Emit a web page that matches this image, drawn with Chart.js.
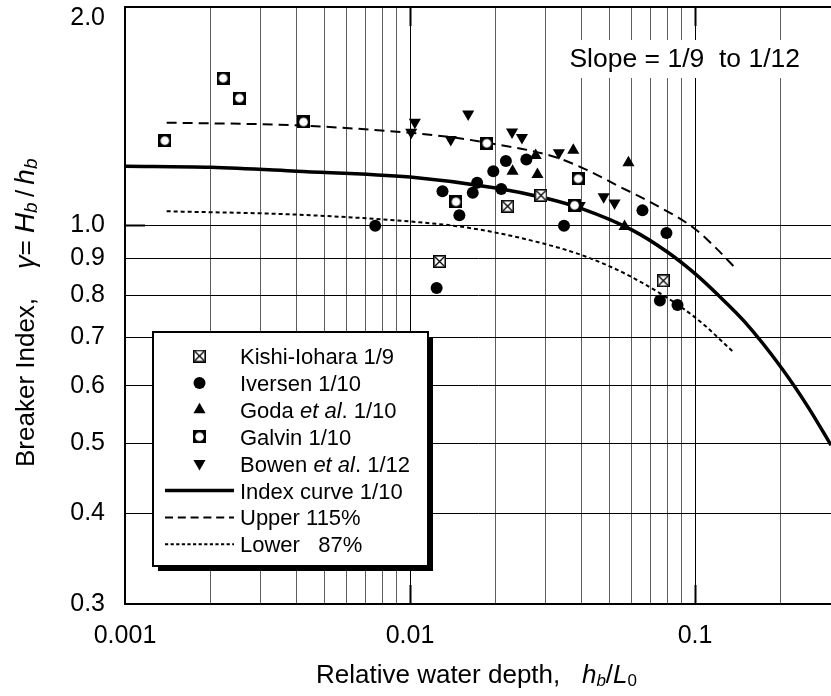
<!DOCTYPE html>
<html>
<head>
<meta charset="utf-8">
<script src="https://cdn.jsdelivr.net/npm/chart.js@4.4.1/dist/chart.umd.min.js"></script>
<style>
  html, body { margin: 0; background: #fff; }
  #wrap { position: relative; width: 831px; height: 696px; }
</style>
</head>
<body>
<div id="wrap"><canvas id="chart" width="831" height="696"></canvas></div>
<script>
// Breaker index vs relative water depth (log-log)
const FONT = '"Liberation Sans", Arial, Helvetica, sans-serif';

const xTicks = [0.001, 0.002, 0.003, 0.004, 0.005, 0.006, 0.007, 0.008, 0.009,
  0.01, 0.02, 0.03, 0.04, 0.05, 0.06, 0.07, 0.08, 0.09, 0.1, 0.2];
const xLabelTicks = [0.001, 0.01, 0.1];
const xMajor = [0.01, 0.1];
const yTicks = [0.3, 0.4, 0.5, 0.6, 0.7, 0.8, 0.9, 1.0, 2.0];
const yMajor = [1.0];

const kishiX = [0.0127, 0.022, 0.0288, 0.0774];
const kishiY = [0.891, 1.062, 1.099, 0.838];

const iversenX = [0.00755, 0.0124, 0.013, 0.0149, 0.0166, 0.0172, 0.0196, 0.0209, 0.0217, 0.0256, 0.0347, 0.0654, 0.0753, 0.0794, 0.0868];
const iversenY = [0.998, 0.819, 1.114, 1.032, 1.108, 1.144, 1.187, 1.122, 1.226, 1.232, 0.998, 1.048, 0.787, 0.975, 0.776];

const godaX = [0.0229, 0.0276, 0.028, 0.0374, 0.0566, 0.0584];
const godaY = [1.187, 1.248, 1.175, 1.269, 0.996, 1.219];

const galvinX = [0.00138, 0.00221, 0.00252, 0.00423, 0.0145, 0.0186, 0.0378, 0.0389];
const galvinY = [1.308, 1.595, 1.497, 1.388, 1.077, 1.297, 1.065, 1.159];

const bowenX = [0.0101, 0.0104, 0.0139, 0.016, 0.0228, 0.0247, 0.0333, 0.0394, 0.0478, 0.0522];
const bowenY = [1.343, 1.387, 1.313, 1.423, 1.344, 1.321, 1.259, 1.064, 1.094, 1.073];

const indexX = [0.001, 0.002, 0.004, 0.01, 0.02, 0.03, 0.04, 0.06, 0.08, 0.1, 0.12, 0.15, 0.2, 0.25, 0.3];
const indexY = [1.206, 1.202, 1.187, 1.165, 1.125, 1.089, 1.054, 0.985, 0.918, 0.857, 0.802, 0.734, 0.637, 0.56, 0.497];

const upperX = [0.0014, 0.004, 0.01, 0.0142, 0.0185, 0.0316, 0.0413, 0.0539, 0.07, 0.1, 0.12, 0.1375];
const upperY = [1.385, 1.373, 1.341, 1.321, 1.300, 1.245, 1.194, 1.132, 1.075, 0.988, 0.925, 0.875];

const lowerX = [0.0014, 0.004, 0.0108, 0.0162, 0.0276, 0.0413, 0.0616, 0.1, 0.1375];
const lowerY = [1.045, 1.034, 1.009, 0.991, 0.949, 0.905, 0.843, 0.746, 0.666];

const slopeText = 'Slope = 1/9  to 1/12';

const pts = (xs, ys) => xs.map((x, i) => ({ x, y: ys[i] }));

// marker images
function kishiMark() {
  const c = document.createElement('canvas');
  c.width = 13; c.height = 13;
  const g = c.getContext('2d');
  g.fillStyle = '#fff'; g.fillRect(0, 0, 13, 13);
  g.strokeStyle = '#000'; g.lineWidth = 1.6;
  g.strokeRect(0.8, 0.8, 11.4, 11.4);
  g.lineWidth = 1.3;
  g.beginPath();
  g.moveTo(2, 2); g.lineTo(11, 11);
  g.moveTo(11, 2); g.lineTo(2, 11);
  g.stroke();
  return c;
}
function galvinMark() {
  const c = document.createElement('canvas');
  c.width = 13; c.height = 13;
  const g = c.getContext('2d');
  g.fillStyle = '#000'; g.fillRect(0, 0, 13, 13);
  g.fillStyle = '#fff';
  g.beginPath(); g.arc(6.5, 6.5, 4.3, 0, Math.PI * 2); g.fill();
  return c;
}

const datasets = [
  { label: 'Kishi-Iohara 1/9', data: pts(kishiX, kishiY), pointStyle: kishiMark(), pointRadius: 6 },
  { label: 'Iversen 1/10', data: pts(iversenX, iversenY), pointStyle: 'circle', pointRadius: 6,
    backgroundColor: '#000', borderWidth: 0 },
  { label: 'Goda *et al*. 1/10', data: pts(godaX, godaY), pointStyle: 'triangle', pointRadius: 7,
    backgroundColor: '#000', borderWidth: 0 },
  { label: 'Galvin 1/10', data: pts(galvinX, galvinY), pointStyle: galvinMark(), pointRadius: 6 },
  { label: 'Bowen *et al*. 1/12', data: pts(bowenX, bowenY), pointStyle: 'triangle', pointRotation: 180,
    pointRadius: 7, backgroundColor: '#000', borderWidth: 0 },
  { label: 'Index curve 1/10', data: pts(indexX, indexY), showLine: true, pointRadius: 0,
    borderColor: '#000', borderWidth: 3.5, cubicInterpolationMode: 'monotone' },
  { label: 'Upper 115%', data: pts(upperX, upperY), showLine: true, pointRadius: 0,
    borderColor: '#000', borderWidth: 2, borderDash: [10, 6], cubicInterpolationMode: 'monotone' },
  { label: 'Lower   87%', data: pts(lowerX, lowerY), showLine: true, pointRadius: 0,
    borderColor: '#000', borderWidth: 2, borderDash: [4, 3], cubicInterpolationMode: 'monotone' },
];

function drawRuns(ctx, runs, x, y) {
  for (const r of runs) {
    ctx.font = (r.i ? 'italic ' : '') + r.s + 'px ' + FONT;
    ctx.fillText(r.t, x, y + (r.dy || 0));
    x += ctx.measureText(r.t).width;
  }
  return x;
}
function starRuns(label, size) {
  return label.split('*').map((t, k) => ({ t, s: size, i: k % 2 === 1 })).filter(r => r.t);
}

const decor = {
  id: 'decor',
  beforeDatasetsDraw(chart) {
    const { ctx, chartArea: a, scales: { x, y } } = chart;
    ctx.save();
    ctx.strokeStyle = '#000';
    ctx.lineWidth = 2;
    ctx.beginPath(); ctx.moveTo(a.left - 1, a.top); ctx.lineTo(a.right, a.top); ctx.stroke();
    xMajor.forEach(v => {
      const px = Math.round(x.getPixelForValue(v)) + 0.5;
      ctx.beginPath();
      ctx.moveTo(px, a.bottom); ctx.lineTo(px, a.bottom - 19);
      ctx.moveTo(px, a.top); ctx.lineTo(px, a.top + 19);
      ctx.stroke();
    });
    yMajor.forEach(v => {
      const py = Math.round(y.getPixelForValue(v)) + 0.5;
      ctx.beginPath(); ctx.moveTo(a.left, py); ctx.lineTo(a.left + 20, py); ctx.stroke();
    });
    // top tick label sits a little below the frame
    ctx.fillStyle = '#000';
    ctx.font = '25px ' + FONT;
    ctx.textAlign = 'right';
    ctx.textBaseline = 'middle';
    ctx.fillText(yTicks[yTicks.length - 1].toFixed(1), a.left - 20, 18);
    // slope note on white
    ctx.fillStyle = '#fff';
    ctx.fillRect(548, 40, 266, 38);
    ctx.fillStyle = '#000';
    ctx.font = '26.5px ' + FONT;
    ctx.textAlign = 'right';
    ctx.textBaseline = 'alphabetic';
    ctx.fillText(slopeText, 800, 67);
    ctx.restore();
  },
  afterDatasetsDraw(chart) {
    const { ctx } = chart;
    ctx.save();
    const bx = 153, by = 332, bw = 275, bh = 234;
    ctx.fillStyle = '#000';
    ctx.fillRect(bx + 5, by + 5, bw, bh);
    ctx.fillStyle = '#fff';
    ctx.fillRect(bx, by, bw, bh);
    ctx.strokeStyle = '#000';
    ctx.lineWidth = 2;
    ctx.strokeRect(bx, by, bw, bh);
    chart.data.datasets.forEach((ds, i) => {
      const ry = 356 + i * 26.9;
      if (ds.showLine) {
        ctx.strokeStyle = '#000';
        ctx.lineWidth = ds.borderWidth;
        ctx.setLineDash(ds.borderDash ? ds.borderDash.map(d => d * 0.8) : []);
        ctx.beginPath(); ctx.moveTo(165, ry); ctx.lineTo(234, ry); ctx.stroke();
        ctx.setLineDash([]);
      } else {
        ctx.fillStyle = '#000';
        ctx.beginPath();
        Chart.helpers.drawPoint(ctx, {
          pointStyle: ds.pointStyle, radius: ds.pointRadius, rotation: ds.pointRotation || 0,
          borderWidth: 0
        }, 199.5, ry);
      }
      ctx.fillStyle = '#000';
      ctx.textAlign = 'left';
      ctx.textBaseline = 'alphabetic';
      drawRuns(ctx, starRuns(ds.label, 22), 240, ry + 8);
    });
    ctx.restore();
  },
  afterDraw(chart) {
    const { ctx } = chart;
    ctx.save();
    ctx.fillStyle = '#000';
    ctx.textAlign = 'left';
    ctx.textBaseline = 'alphabetic';
    drawRuns(ctx, [
      { t: 'Relative water depth,   ', s: 26 },
      { t: 'h', s: 26, i: true },
      { t: 'b', s: 17, i: true, dy: 3 },
      { t: '/', s: 26 },
      { t: 'L', s: 26, i: true },
      { t: '0', s: 17, dy: 3 },
    ], 316, 683);
    ctx.translate(34, 467);
    ctx.rotate(-Math.PI / 2);
    drawRuns(ctx, [
      { t: 'Breaker Index,    ', s: 26 },
      { t: 'γ', s: 27, i: true },
      { t: '= ', s: 26 },
      { t: 'H', s: 28, i: true },
      { t: 'b', s: 19, i: true, dy: 3 },
      { t: '\u2009/\u2009', s: 26 },
      { t: 'h', s: 28, i: true },
      { t: 'b', s: 19, i: true, dy: 3 },
    ], 0, 0);
    ctx.restore();
  }
};

new Chart(document.getElementById('chart'), {
  type: 'scatter',
  data: { datasets },
  options: {
    responsive: false,
    animation: false,
    devicePixelRatio: 1,
    layout: { autoPadding: false, padding: { top: 7, right: 0, left: 0, bottom: 0 } },
    plugins: { legend: { display: false }, tooltip: { enabled: false } },
    elements: { point: { backgroundColor: '#000', borderColor: '#000' }, line: { tension: 0 } },
    scales: {
      x: {
        type: 'logarithmic', min: 0.001, max: 0.3,
        afterBuildTicks: (s) => { s.ticks = xTicks.map(v => ({ value: v })); },
        afterFit: (s) => { s.height = 92; s.paddingLeft = 0; s.paddingRight = 0; },
        grid: {
          color: (c) => (c.tick && xMajor.includes(c.tick.value) ? '#000' : '#5e5e5e'),
          lineWidth: 1, drawTicks: false,
        },
        border: { display: true, color: '#000', width: 2 },
        ticks: {
          autoSkip: false, maxRotation: 0, padding: 17, color: '#000',
          font: { family: FONT, size: 25 },
          callback: (v) => (xLabelTicks.includes(v) ? String(v) : ''),
        },
      },
      y: {
        type: 'logarithmic', min: 0.3, max: 2.0,
        afterBuildTicks: (s) => { s.ticks = yTicks.map(v => ({ value: v })); },
        afterFit: (s) => { s.width = 125; s.paddingTop = 0; s.paddingBottom = 0; },
        grid: { color: '#000', lineWidth: 1, drawTicks: false },
        border: { display: true, color: '#000', width: 2 },
        ticks: {
          padding: 20, color: '#000',
          font: { family: FONT, size: 25 },
          callback: (v) => (v >= 2 ? '' : Number(v).toFixed(1)),
        },
      },
    },
  },
  plugins: [decor],
});
</script>
</body>
</html>
